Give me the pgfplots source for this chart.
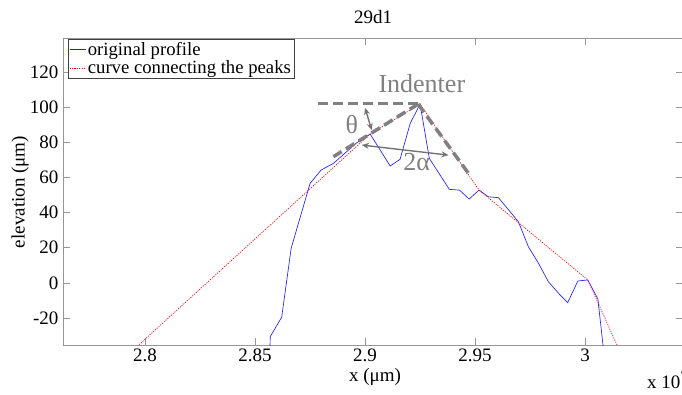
\documentclass[border=0pt]{standalone}
\usepackage{pgfplots}
\pgfplotsset{compat=1.18}
\usepackage{fontspec}
\setmainfont{Liberation Serif}
\usetikzlibrary{arrows.meta}
\definecolor{axgray}{RGB}{150,150,150}
\definecolor{indgray}{RGB}{128,128,128}
\definecolor{arrgray}{RGB}{115,115,115}
\definecolor{pblue}{RGB}{30,30,255}
\begin{document}
\begin{tikzpicture}[x=1pt,y=1pt]
\begin{axis}[at={(63pt,49pt)}, anchor=south west, scale only axis,
  width=620pt, height=307pt,
  xmin=2.7627, xmax=3.0445, ymin=-35.3, ymax=139.3,
  axis line style={axgray, line width=0.9pt},
  tick style={axgray, line width=0.8pt}, major tick length=7pt,
  tick align=inside,
  xtick={2.8,2.85,2.9,2.95,3}, xticklabels={2.8,2.85,2.9,2.95,3},
  ytick={-20,0,20,40,60,80,100,120}, yticklabels={-20,0,20,40,60,80,100,120},
  tick label style={font=\fontsize{19}{20}\selectfont, black},
  xticklabel style={yshift=0pt},
  yticklabel style={xshift=-1pt},
  legend style={at={(0.008,0.997)}, anchor=north west, draw=black!75,
    line width=0.6pt,
    fill=white, font=\fontsize{18.7}{22}\selectfont, inner xsep=1pt, inner ysep=1pt,
    row sep=0pt, cells={anchor=west}},
  legend image code/.code={\draw[#1, line width=0.6pt] (0pt,0pt) -- (16pt,0pt);},
]
\addplot[pblue, line width=0.65pt] coordinates {
(2.8567,-40) (2.8569,-30.5) (2.8621,-19.5) (2.8664,19.7) (2.8750,56.6)
(2.8800,64.2) (2.8856,68.0) (2.8962,79.7) (2.9023,84.7) (2.9114,66.5)
(2.9159,70.3) (2.9205,90.7) (2.9250,101.7) (2.9292,70.8) (2.9383,53.2)
(2.9429,52.8) (2.9473,47.7) (2.9518,52.8) (2.9560,49.0) (2.9606,48.5)
(2.9697,34.8) (2.9742,20.6) (2.9788,11.2) (2.9833,0.7) (2.9886,-6.8)
(2.9921,-11.2) (2.9967,1.1) (3.0012,1.7) (3.0058,-9.1) (3.0090,-45)
};
\addlegendentry{original profile}
\addplot[red, line width=0.65pt, dash pattern=on 1.2pt off 1.2pt] coordinates {
(2.790,-43.4) (2.9023,84.7) (2.9250,101.7) (2.9518,52.8) (3.0012,1.7) (3.020,-50.6)
};
\addlegendentry{curve connecting the peaks}
% indenter sketch
\draw[indgray, line width=3.5pt, dash pattern=on 10pt off 5pt]
  (axis cs:2.8786,102.1) -- (axis cs:2.9241,102.1);
\draw[indgray, line width=3.5pt, dash pattern=on 10pt off 5pt]
  (axis cs:2.9241,101.7) -- (axis cs:2.8856,71.8);
\draw[indgray, line width=3.5pt, dash pattern=on 10pt off 5pt]
  (axis cs:2.9241,101.7) -- (axis cs:2.947,62.3);
\draw[arrgray, line width=1.4pt, {Stealth[length=7pt,width=6pt]}-{Stealth[length=7pt,width=6pt]}]
  (axis cs:2.9,99.6) -- (axis cs:2.903,86.9);
\draw[arrgray, line width=1.4pt, {Stealth[length=7pt,width=6pt]}-{Stealth[length=7pt,width=6pt]}]
  (axis cs:2.8985,78.4) -- (axis cs:2.9379,72.7);
\node[indgray, font=\fontsize{26}{28}\selectfont] at (axis cs:2.9258,113.5) {Indenter};
\node[indgray, font=\fontsize{26}{28}\selectfont] at (axis cs:2.894,89.8) {θ};
\node[indgray, font=\fontsize{26}{28}\selectfont] at (axis cs:2.9235,68.9) {2α};
\end{axis}
\node[font=\fontsize{19}{20}\selectfont] at (373,377) {29d1};
\node[font=\fontsize{19}{20}\selectfont, rotate=90] at (20,202) {elevation (μm)};
\node[font=\fontsize{19}{20}\selectfont, inner sep=1pt] at (375,17) {x (μm)};
\node[font=\fontsize{19}{20}\selectfont, anchor=base west, inner sep=0pt] at (647,6) {x 10$^{7}$};
\pgfresetboundingbox
\useasboundingbox (0,0) rectangle (682,394);
\end{tikzpicture}
\end{document}
